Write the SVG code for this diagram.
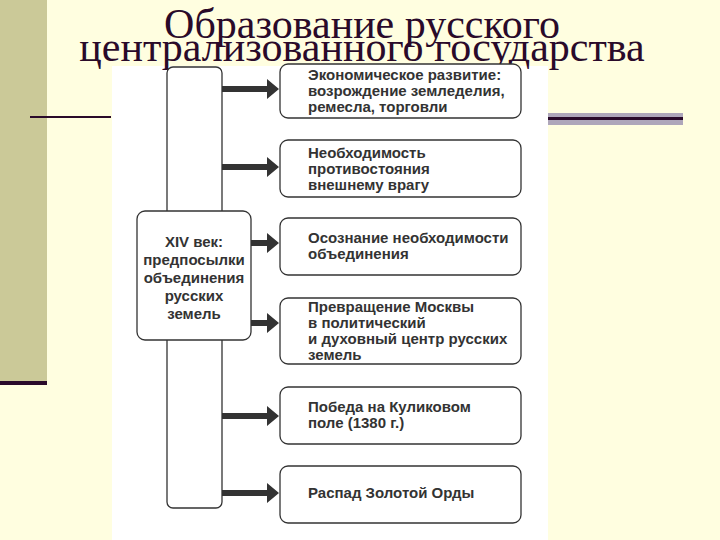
<svg xmlns="http://www.w3.org/2000/svg" width="720" height="540" viewBox="0 0 720 540">
<style>
.box{fill:#fff;stroke:#333;stroke-width:1.3}
.t{font-family:"Liberation Sans",Arial,sans-serif;font-weight:bold;font-size:15px;fill:#333}
.ti{font-family:"Liberation Serif","Times New Roman",serif;font-size:42px;fill:#2a0a2a}
.arr{fill:#333}
</style>
<rect width="720" height="540" fill="#fffee0"/>
<rect x="0" y="0" width="47" height="383" fill="#cbc998"/>
<rect x="0" y="381" width="47" height="4" fill="#2a0a2a"/>
<rect x="30" y="116" width="81" height="2" fill="#2a0a2a"/>
<rect x="548" y="113" width="135" height="12" fill="#aea6ba"/>
<rect x="548" y="117" width="135" height="3" fill="#2a0a2a"/>
<rect x="112" y="66" width="436" height="474" fill="#fff"/>
<text class="ti" x="362" y="38" text-anchor="middle">Образование русского</text>
<text class="ti" x="362" y="61" text-anchor="middle">централизованного государства</text>
<g id="connectors">
<path class="arr" d="M222 86h45v-7l12 10l-12 10v-7h-45z"/>
<path class="arr" d="M222 164h45v-7l12 10l-12 10v-7h-45z"/>
<path class="arr" d="M251 240h16v-7l12 10l-12 10v-7h-16z"/>
<path class="arr" d="M251 320h16v-7l12 10l-12 10v-7h-16z"/>
<path class="arr" d="M222 413h45v-7l12 10l-12 10v-7h-45z"/>
<path class="arr" d="M222 490h45v-7l12 10l-12 10v-7h-45z"/>
</g>
<g id="spine"><rect class="box" x="167" y="67" width="55" height="441" rx="6"/></g>
<g id="main"><rect class="box" x="137" y="211" width="114" height="129" rx="8"/>
<text class="t" text-anchor="middle"><tspan x="194" y="247">XIV век:</tspan><tspan x="194" y="265">предпосылки</tspan><tspan x="194" y="283">объединения</tspan><tspan x="194" y="301">русских</tspan><tspan x="194" y="319">земель</tspan></text></g>
<g id="n1"><rect class="box" x="280" y="64" width="241" height="54" rx="8"/>
<text class="t"><tspan x="308" y="80">Экономическое развитие:</tspan><tspan x="308" y="96">возрождение земледелия,</tspan><tspan x="308" y="112">ремесла, торговли</tspan></text></g>
<g id="n2"><rect class="box" x="280" y="140" width="241" height="57" rx="8"/>
<text class="t"><tspan x="308" y="158">Необходимость</tspan><tspan x="308" y="174">противостояния</tspan><tspan x="308" y="190">внешнему врагу</tspan></text></g>
<g id="n3"><rect class="box" x="280" y="218" width="241" height="57" rx="8"/>
<text class="t"><tspan x="308" y="243">Осознание необходимости</tspan><tspan x="308" y="259">объединения</tspan></text></g>
<g id="n4"><rect class="box" x="280" y="298" width="241" height="66" rx="8"/>
<text class="t"><tspan x="308" y="312">Превращение Москвы</tspan><tspan x="308" y="328">в политический</tspan><tspan x="308" y="344">и духовный центр русских</tspan><tspan x="308" y="360">земель</tspan></text></g>
<g id="n5"><rect class="box" x="280" y="387" width="241" height="57" rx="8"/>
<text class="t"><tspan x="308" y="412">Победа на Куликовом</tspan><tspan x="308" y="428">поле (1380 г.)</tspan></text></g>
<g id="n6"><rect class="box" x="280" y="466" width="241" height="57" rx="8"/>
<text class="t"><tspan x="308" y="498">Распад Золотой Орды</tspan></text></g>
</svg>
